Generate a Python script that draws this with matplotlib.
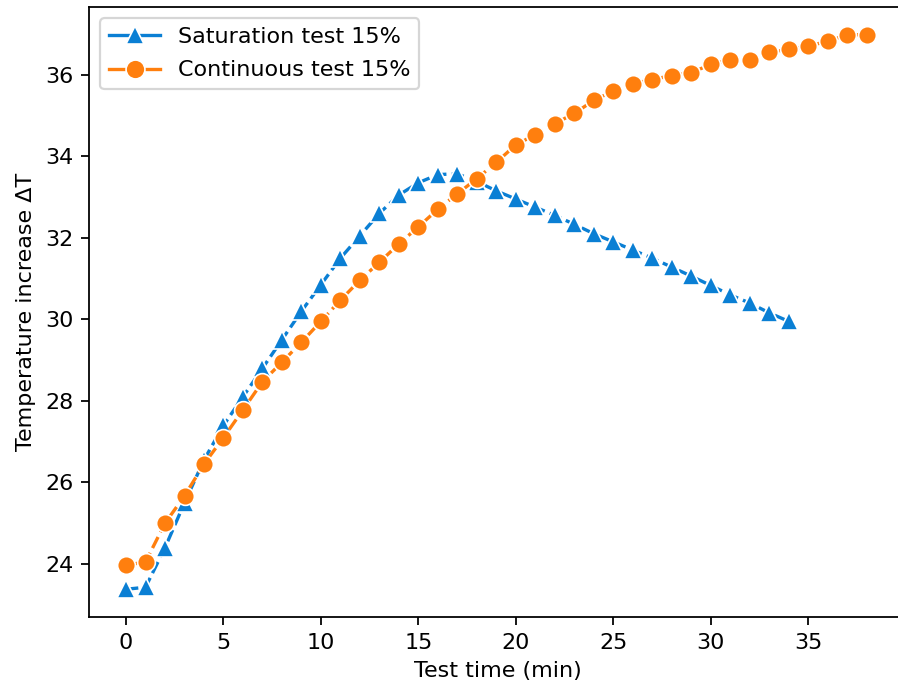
import matplotlib
matplotlib.use("Agg")
import matplotlib.pyplot as plt
from matplotlib.lines import Line2D

# Saturation test (blue triangles), minutes 0..34
sat_time = list(range(0, 35))
sat_dt = [23.38, 23.43, 24.40, 25.50, 26.55, 27.40, 28.10, 28.80, 29.50, 30.20,
          30.85, 31.50, 32.05, 32.60, 33.05, 33.35, 33.55, 33.57, 33.38, 33.15,
          32.95, 32.75, 32.55, 32.33, 32.10, 31.90, 31.70, 31.50, 31.28, 31.06,
          30.83, 30.60, 30.40, 30.16, 29.95]

# Continuous test (orange circles), minutes 0..38
cont_time = list(range(0, 39))
cont_dt = [23.97, 24.05, 25.00, 25.67, 26.45, 27.10, 27.78, 28.47, 28.95, 29.44,
           29.95, 30.47, 30.96, 31.40, 31.85, 32.27, 32.70, 33.08, 33.45, 33.85,
           34.28, 34.53, 34.80, 35.05, 35.37, 35.60, 35.78, 35.88, 35.98, 36.05,
           36.25, 36.37, 36.37, 36.55, 36.62, 36.70, 36.82, 36.98, 36.98]

x_ticks = [0, 5, 10, 15, 20, 25, 30, 35]

BLUE = '#0a7fd4'
ORANGE = '#ff7f0e'

DPI = 160
fig = plt.figure(figsize=(898 / DPI, 689 / DPI), dpi=DPI)
# right side of the axes is cut off by the picture edge, like the reference
ax = fig.add_axes([89 / 898, 1 - 617 / 689, (907 - 89) / 898, (617 - 7) / 689])

ax.plot(sat_time, sat_dt, linestyle='--', color=BLUE, marker='^',
        markersize=8, markeredgecolor='white', markeredgewidth=0.75)
ax.plot(cont_time, cont_dt, linestyle='--', color=ORANGE, marker='o',
        markersize=8, markeredgecolor='white', markeredgewidth=0.75)
ax.set_xlim(-1.9, 40.07)
ax.set_xticks(x_ticks)
ax.spines['right'].set_visible(False)

ax.set_xlabel('Test time (min)')
ax.set_ylabel('Temperature increase ΔT')

# legend handles show solid lines
handles = [
    Line2D([], [], color=BLUE, marker='^', markersize=8.5,
           markeredgecolor='white', markeredgewidth=0.75),
    Line2D([], [], color=ORANGE, marker='o', markersize=8.5,
           markeredgecolor='white', markeredgewidth=0.75),
]
ax.legend(handles, ['Saturation test 15%', 'Continuous test 15%'],
          loc='upper left', handlelength=2.3, labelspacing=0.6)

fig.savefig('out.png', dpi=DPI)
